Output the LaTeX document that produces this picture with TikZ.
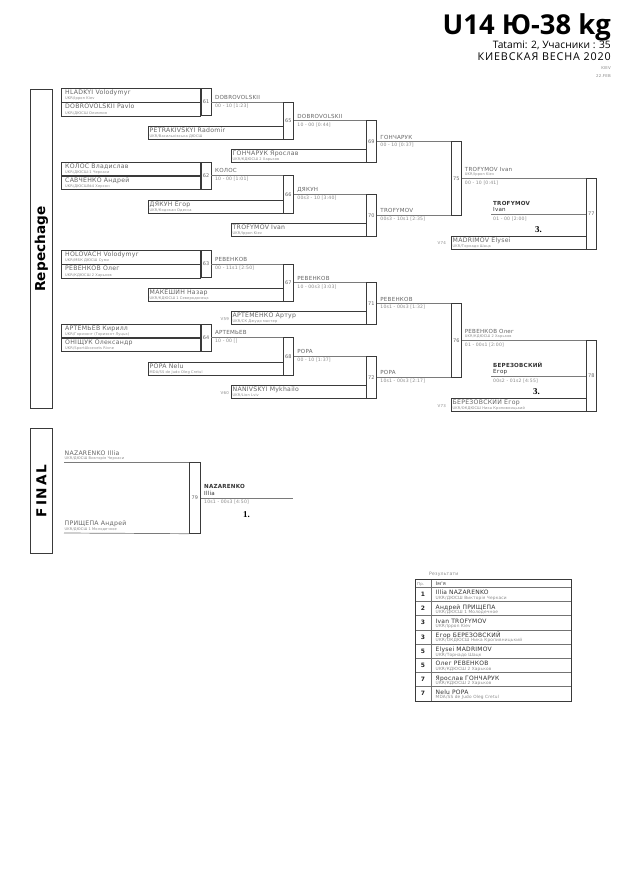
\documentclass[tikz,border=0pt]{standalone}
\usepackage{fontspec}
\setmainfont{DejaVu Sans}
\newfontfamily\brf{DejaVu Sans}[LetterSpace=4]
\newfontfamily\ttlf{Open Sans}
\newfontfamily\ttlsp{Open Sans}[LetterSpace=8]
\newfontfamily\hdf{DejaVu Sans}[LetterSpace=1]
\newfontfamily\hdfw{DejaVu Sans}[LetterSpace=13]
\newfontfamily\plf{Liberation Serif}
\usetikzlibrary{calc}
\definecolor{nmcol}{HTML}{666666}
\definecolor{clcol}{HTML}{8A8A8A}
\definecolor{lncol}{HTML}{7A7A7A}
\definecolor{bxcol}{HTML}{3A3A3A}
\definecolor{dkcol}{HTML}{333333}
\tikzset{
 nbox/.style={draw=bxcol, line width=0.7bp, inner sep=0, anchor=north west},
 mbox/.style={draw=bxcol, line width=0.7bp, inner sep=0, minimum width=10bp, anchor=north west, font=\brf\fontsize{5}{5}\selectfont, text=nmcol},
 conn/.style={draw=lncol, line width=0.7bp},
 nametext/.style={inner sep=0, anchor=base west, font=\brf\fontsize{6.2}{7}\selectfont, text=nmcol},
 clubtext/.style={inner sep=0, anchor=base west, font=\brf\fontsize{3.6}{4}\selectfont, text=clcol},
 wintext/.style={inner sep=0, anchor=base west, font=\brf\fontsize{5.6}{6}\selectfont, text=nmcol},
 scoretext/.style={inner sep=0, anchor=base west, font=\brf\fontsize{4.6}{5}\selectfont, text=clcol},
 restext/.style={inner sep=0, anchor=base west, font=\brf\bfseries\fontsize{5.6}{6}\selectfont, text=dkcol},
 restext2/.style={inner sep=0, anchor=base west, font=\brf\fontsize{5.6}{6}\selectfont, text=dkcol},
 placetext/.style={inner sep=0, anchor=base west, font=\plf\bfseries\fontsize{9}{9}\selectfont, text=black},
 vtext/.style={inner sep=0, anchor=east, font=\brf\fontsize{4}{4}\selectfont, text=clcol},
 sidebox/.style={draw=bxcol, line width=0.9bp, inner sep=0, minimum width=22bp, anchor=north west},
 sidetext/.style={rotate=90, inner sep=0, font=\hdf\bfseries\fontsize{13.7}{14}\selectfont, text=black},
 rowbox/.style={draw=black!55, line width=0.6bp, inner sep=0, anchor=north west, minimum width=156bp},
 tabframe/.style={draw=bxcol, line width=0.8bp},
 placenum/.style={inner sep=0, font=\brf\bfseries\fontsize{6}{6}\selectfont, text=black!85},
 tabname/.style={inner sep=0, anchor=base west, font=\brf\fontsize{6}{6}\selectfont, text=dkcol},
 tabclub/.style={inner sep=0, anchor=base west, font=\brf\fontsize{4.3}{5}\selectfont, text=clcol},
 ttl/.style={inner sep=0, anchor=base east},
}
\newcommand\singlebox[6]{%
 \node[nbox, minimum width=#4bp, minimum height=13bp] (#1) at (#2,#3) {};
 \node[nametext] (#1n) at ($(#1.north west)+(1.5,6.3)$) {#5};
 \node[clubtext] (#1c) at ($(#1.north west)+(1.5,11.6)$) {#6};
}
\newcommand\pairbox[8]{%
 \node[nbox, minimum width=139bp, minimum height=13.5bp] (#1a) at (#2,#3) {};
 \node[nbox, minimum width=139bp, minimum height=13.5bp] (#1b) at (#1a.south west) {};
 \node[nametext] (#1an) at ($(#1a.north west)+(4,6.5)$) {#4};
 \node[clubtext] (#1ac) at ($(#1a.north west)+(4,11.9)$) {#5};
 \node[nametext] (#1bn) at ($(#1b.north west)+(4,6.5)$) {#6};
 \node[clubtext] (#1bc) at ($(#1b.north west)+(4,11.9)$) {#7};
 \node[mbox, minimum height=27bp] (m#8) at (#1a.north east) {#8};
}
\newcommand\winlab[3]{%
 \node[wintext] (#1w) at ($(#1.east)+(3.5,-2.4)$) {#2};
 \node[scoretext] (#1s) at ($(#1.east)+(3.5,5.5)$) {#3};
}
\newcommand\winlabc[4]{%
 \node[wintext] (#1w) at ($(#1.east)+(3,-6.5)$) {#2};
 \node[clubtext] (#1c) at ($(#1.east)+(3,-3)$) {#3};
 \node[scoretext] (#1s) at ($(#1.east)+(3,6)$) {#4};
}
\newcommand\reslab[4]{%
 \node[restext] (#1n) at ($(#1)+(2,-9)$) {#2};
 \node[restext2] (#1f) at ($(#1)+(2,-2.5)$) {#3};
 \node[scoretext] (#1s) at ($(#1)+(2,6)$) {#4};
}
\newcommand\resrow[5]{%
 \node[rowbox, minimum height=14.2bp] (#1) at (415,#2) {};
 \node[placenum] (#1p) at ($(#1.north west)+(8,7.3)$) {#3};
 \node[tabname] (#1n) at ($(#1.north west)+(20.5,7.8)$) {#4};
 \node[tabclub] (#1c) at ($(#1.north west)+(20.5,12.3)$) {#5};
}
\begin{document}
\begin{tikzpicture}[x=1bp,y=-1bp]
\fill[white] (0,0) rectangle (630,891);
\useasboundingbox (0,0) rectangle (630,891);

% ---------- title block
\node[ttl, font=\ttlf\bfseries\fontsize{27.5}{30}\selectfont] (title) at (611,34) {U14 Ю-38 kg};
\node[ttl, font=\ttlf\fontsize{10.3}{12}\selectfont] (tatami) at (611,48.5) {Tatami: 2, Учасники : 35};
\node[ttl, font=\ttlsp\fontsize{10.8}{12}\selectfont] (event) at (611,60.8) {КИЕВСКАЯ ВЕСНА 2020};
\node[ttl, font=\brf\fontsize{4}{4}\selectfont, text=clcol] (city) at (611,69.5) {KIEV};
\node[ttl, font=\brf\fontsize{4}{4}\selectfont, text=clcol] (date) at (611,77) {22.FEB};

% ---------- side boxes
\node[sidebox, minimum height=319bp] (repbox) at (30,89) {};
\node[sidetext] (reptxt) at (repbox.center) {Repechage};
\node[sidebox, minimum height=125bp] (finbox) at (30,428) {};
\node[sidetext, font=\hdfw\bfseries\fontsize{13.7}{14}\selectfont] (fintxt) at (finbox.center) {FINAL};

% ---------- upper repechage
\pairbox{pA}{61}{88}{HLADKYI Volodymyr}{UKR/Ippon Kiev}{DOBROVOLSKII Pavlo}{UKR/ДЮСШ Олимпия}{61}
\singlebox{sPetr}{148}{126}{135}{PETRAKIVSKYI Radomir}{UKR/Васильківська ДЮСШ}
\node[mbox, minimum height=37.5bp] (m65) at (283,101.5) {65};
\singlebox{sGon}{231}{149}{135}{ГОНЧАРУК Ярослав}{UKR/КДЮСШ 2 Харьков}
\node[mbox, minimum height=41.75bp] (m69) at (366,120.25) {69};
\pairbox{pB}{61}{161.5}{КОЛОС Владислав}{UKR/ДЮСШ-1 Черкаси}{САВЧЕНКО Андрей}{UKR/ДЮСШ№4 Херсон}{62}
\singlebox{sDya}{148}{200}{135}{ДЯКУН Егор}{UKR/Кодокан Одесса}
\node[mbox, minimum height=38bp] (m66) at (283,175) {66};
\singlebox{sTro}{231}{223}{135}{TROFYMOV Ivan}{UKR/Ippon Kiev}
\node[mbox, minimum height=42bp] (m70) at (366,194) {70};
\node[mbox, minimum height=73.875bp] (m75) at (451,141.125) {75};
\singlebox{sMad}{451}{236}{135}{MADRIMOV Elysei}{UKR/Торнадо Шацк}
\node[vtext] (v74) at ($(sMad.west)+(-5,0)$) {V74};
\node[mbox, minimum height=70.94bp] (m77) at (586,178.06) {77};

\draw[conn] (m61.east) -- (m61.east -| m65.west);
\draw[conn] (m62.east) -- (m62.east -| m66.west);
\draw[conn] (m65.east) -- (m65.east -| m69.west);
\draw[conn] (m66.east) -- (m66.east -| m70.west);
\draw[conn] (m69.east) -- (m69.east -| m75.west);
\draw[conn] (m70.east) -- (m70.east -| m75.west);
\draw[conn] (m75.east) -- (m75.east -| m77.west);
\coordinate (r77) at (491,214);
\draw[conn] (r77) -- (r77 -| m77.west);

\winlab{m61}{DOBROVOLSKII}{00 - 10 [1:23]}
\winlab{m62}{КОЛОС}{10 - 00 [1:01]}
\winlab{m65}{DOBROVOLSKII}{10 - 00 [0:44]}
\winlab{m66}{ДЯКУН}{00s3 - 10 [3:40]}
\winlab{m69}{ГОНЧАРУК}{00 - 10 [0:37]}
\winlab{m70}{TROFYMOV}{00s3 - 10s1 [2:35]}
\winlabc{m75}{TROFYMOV Ivan}{UKR/Ippon Kiev}{00 - 10 [0:41]}
\reslab{r77}{TROFYMOV}{Ivan}{01 - 00 [2:00]}
\node[placetext] (pl77) at ($(r77)+(44,18)$) {3.};

% ---------- lower repechage
\pairbox{pC}{61}{250}{HOLOVACH Volodymyr}{UKR/МБК ДЮСШ Суми}{РЕВЕНКОВ Олег}{UKR/КДЮСШ 2 Харьков}{63}
\singlebox{sMak}{148}{288}{135}{МАКЕШИН Назар}{UKR/КДЮСШ 1 Северодонецк}
\node[mbox, minimum height=37.5bp] (m67) at (283,263.5) {67};
\singlebox{sArt}{231}{311}{135}{АРТЕМЕНКО Артур}{UKR/СК Джудо мастер}
\node[vtext] (v59) at ($(sArt.west)+(-2,1.5)$) {V59};
\node[mbox, minimum height=41.75bp] (m71) at (366,282.25) {71};
\pairbox{pD}{61}{323.5}{АРТЕМЬЕВ Кирилл}{UKR/Горизонт (Горизонт Луцьк)}{ОНІЩУК Олександр}{UKR/SportAkcevets Rivne}{64}
\singlebox{sPop}{148}{362}{135}{POPA Nelu}{MDA/SS de Judo Oleg Cretul}
\node[mbox, minimum height=38bp] (m68) at (283,337) {68};
\singlebox{sNan}{231}{385}{135}{NANIVSKYI Mykhailo}{UKR/Lion Lviv}
\node[vtext] (v60) at ($(sNan.west)+(-2,1.5)$) {V60};
\node[mbox, minimum height=42bp] (m72) at (366,356) {72};
\node[mbox, minimum height=73.875bp] (m76) at (451,303.125) {76};
\singlebox{sBer}{451}{398}{135}{БЕРЕЗОВСКИЙ Егор}{UKR/ОКДЮСШ Ника Кропивницький}
\node[vtext] (v73) at ($(sBer.west)+(-5,1)$) {V73};
\node[mbox, minimum height=70.94bp] (m78) at (586,340.06) {78};

\draw[conn] (m63.east) -- (m63.east -| m67.west);
\draw[conn] (m64.east) -- (m64.east -| m68.west);
\draw[conn] (m67.east) -- (m67.east -| m71.west);
\draw[conn] (m68.east) -- (m68.east -| m72.west);
\draw[conn] (m71.east) -- (m71.east -| m76.west);
\draw[conn] (m72.east) -- (m72.east -| m76.west);
\draw[conn] (m76.east) -- (m76.east -| m78.west);
\coordinate (r78) at (491,376);
\draw[conn] (r78) -- (r78 -| m78.west);

\winlab{m63}{РЕВЕНКОВ}{00 - 11s1 [2:50]}
\winlab{m64}{АРТЕМЬЕВ}{10 - 00 []}
\winlab{m67}{РЕВЕНКОВ}{10 - 00s3 [3:03]}
\winlab{m68}{POPA}{00 - 10 [1:37]}
\winlab{m71}{РЕВЕНКОВ}{10s1 - 00s3 [1:32]}
\winlab{m72}{POPA}{10s1 - 00s3 [2:17]}
\winlabc{m76}{РЕВЕНКОВ Олег}{UKR/КДЮСШ 2 Харьков}{01 - 00s1 [2:00]}
\reslab{r78}{БЕРЕЗОВСКИЙ}{Егор}{00s2 - 01s2 [4:55]}
\node[placetext] (pl78) at ($(r78)+(42,18)$) {3.};

% ---------- final
\node[mbox, minimum width=11bp, minimum height=71bp] (m79) at (189,462) {79};
\coordinate (f1) at (64,462);
\coordinate (f2) at (64,533);
\coordinate (f3) at (293,497.5);
\draw[conn] (f1) -- (m79.north west);
\draw[conn] (f2) -- (m79.south west);
\draw[conn] (m79.east) -- (m79.east -| f3);
\node[nametext] (f1n) at ($(f1)+(0.5,-7)$) {NAZARENKO Illia};
\node[clubtext] (f1c) at ($(f1)+(0.5,-2.7)$) {UKR/ДЮСШ Викторія Черкаси};
\node[nametext] (f2n) at ($(f2)+(0.5,-8)$) {ПРИЩЕПА Андрей};
\node[clubtext] (f2c) at ($(f2)+(0.5,-3)$) {UKR/ДЮСШ 1 Молодечное};
\coordinate (r79) at (202,497.5);
\reslab{r79}{NAZARENKO}{Illia}{10s1 - 00s3 [4:50]}
\node[placetext] (pl79) at ($(r79)+(41,19.5)$) {1.};

% ---------- results table
\node[inner sep=0, anchor=base west, font=\brf\fontsize{4.6}{5}\selectfont, text=clcol] (restitle) at (429,575.5) {Результати};
\node[rowbox, minimum height=8bp] (hdr) at (415,579) {};
\node[inner sep=0, anchor=base west, font=\brf\fontsize{4}{4}\selectfont, text=clcol] (hdrp) at (417,585.3) {Пр.};
\node[inner sep=0, anchor=base west, font=\brf\fontsize{5}{5}\selectfont, text=dkcol] (hdrn) at (435.5,585.5) {Ім'я};
\resrow{row1}{587}{1}{Illia NAZARENKO}{UKR/ДЮСШ Викторія Черкаси}
\resrow{row2}{601.2}{2}{Андрей ПРИЩЕПА}{UKR/ДЮСШ 1 Молодечное}
\resrow{row3}{615.4}{3}{Ivan TROFYMOV}{UKR/Ippon Kiev}
\resrow{row4}{629.6}{3}{Егор БЕРЕЗОВСКИЙ}{UKR/ОКДЮСШ Ника Кропивницький}
\resrow{row5}{643.8}{5}{Elysei MADRIMOV}{UKR/Торнадо Шацк}
\resrow{row6}{658}{5}{Олег РЕВЕНКОВ}{UKR/КДЮСШ 2 Харьков}
\resrow{row7}{672.2}{7}{Ярослав ГОНЧАРУК}{UKR/КДЮСШ 2 Харьков}
\resrow{row8}{686.4}{7}{Nelu POPA}{MDA/SS de Judo Oleg Cretul}
\coordinate (cdiv) at (431,579);
\draw[draw=black!55, line width=0.6bp] (cdiv) -- (cdiv |- row8.south);
\draw[tabframe] (hdr.north west) rectangle (row8.south east);
\end{tikzpicture}
\end{document}
